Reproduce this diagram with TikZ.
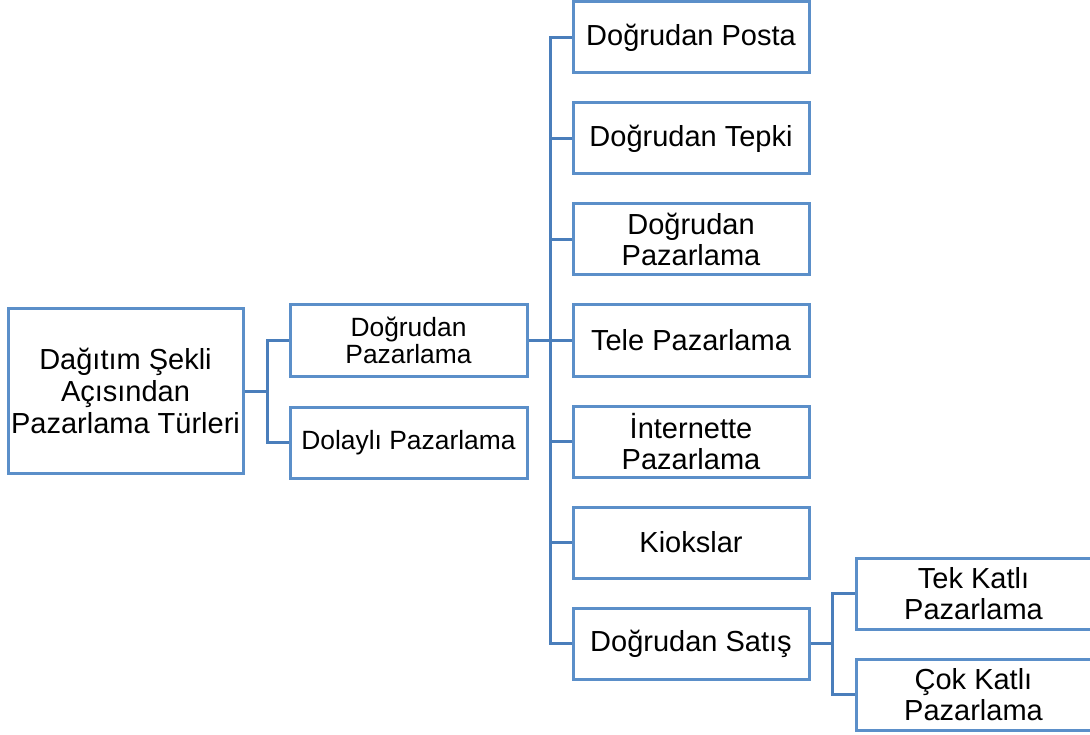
\documentclass[tikz,border=0pt]{standalone}
\usepackage{fontspec}
\setmainfont{Liberation Sans}
\begin{document}
\begin{tikzpicture}[x=1pt,y=-1pt,
  box/.style={draw=boxblue, line width=3pt, fill=white, rectangle, inner sep=0pt,
    minimum height=71pt, align=center, font=\fontsize{29}{31}\selectfont},
  conn/.style={draw=lineblue, line width=3pt}]
\definecolor{boxblue}{HTML}{5B8FC9}
\definecolor{lineblue}{HTML}{4A7EBB}
\useasboundingbox (0,0) rectangle (1090,735);

% root
\node[box, minimum width=235pt, minimum height=164pt, font=\fontsize{29}{32}\selectfont]
  (root) at (125.5,391) {Dağıtım Şekli\\Açısından\\Pazarlama Türleri};

% second level
\node[box, minimum width=237pt, font=\fontsize{26.4}{27.5}\selectfont] (dp) at (408.5,340.5) {Doğrudan\\Pazarlama};
\node[box, minimum width=237pt, font=\fontsize{26.4}{27.5}\selectfont] (dl) at (408.5,442.5) {Dolaylı Pazarlama};

% third level
\node[box, minimum width=236pt] (t1) at (691,37.5) {Doğrudan Posta};
\node[box, minimum width=236pt] (t2) at (691,138.5) {Doğrudan Tepki};
\node[box, minimum width=236pt] (t3) at (691,239.5) {Doğrudan\\Pazarlama};
\node[box, minimum width=236pt] (t4) at (691,340.5) {Tele Pazarlama};
\node[box, minimum width=236pt] (t5) at (691,441.5) {İnternette\\Pazarlama};
\node[box, minimum width=236pt] (t6) at (691,542.5) {Kiokslar};
\node[box, minimum width=236pt] (t7) at (691,643.5) {Doğrudan Satış};

% fourth level
\node[box, minimum width=235pt, font=\fontsize{29}{30.5}\selectfont] (tk) at (973.5,593.5) {Tek Katlı\\Pazarlama};
\node[box, minimum width=235pt, font=\fontsize{29}{30.5}\selectfont] (ck) at (973.5,694.5) {Çok Katlı\\Pazarlama};

% junction points
\coordinate (j1) at (267,391);
\coordinate (j2) at (550,340.5);
\coordinate (j3) at (832,643.5);

% connectors
\draw[conn] (root.east) -- (j1);
\draw[conn] (dp.west) -| (j1) |- (dl.west);

\draw[conn] (dp.east) -- (j2);
\foreach \n in {t1,t2,t3,t4,t5,t6,t7} {
  \draw[conn] (\n.west) -| (j2);
}

\draw[conn] (t7.east) -- (j3);
\draw[conn] (tk.west) -| (j3) |- (ck.west);
\end{tikzpicture}
\end{document}
